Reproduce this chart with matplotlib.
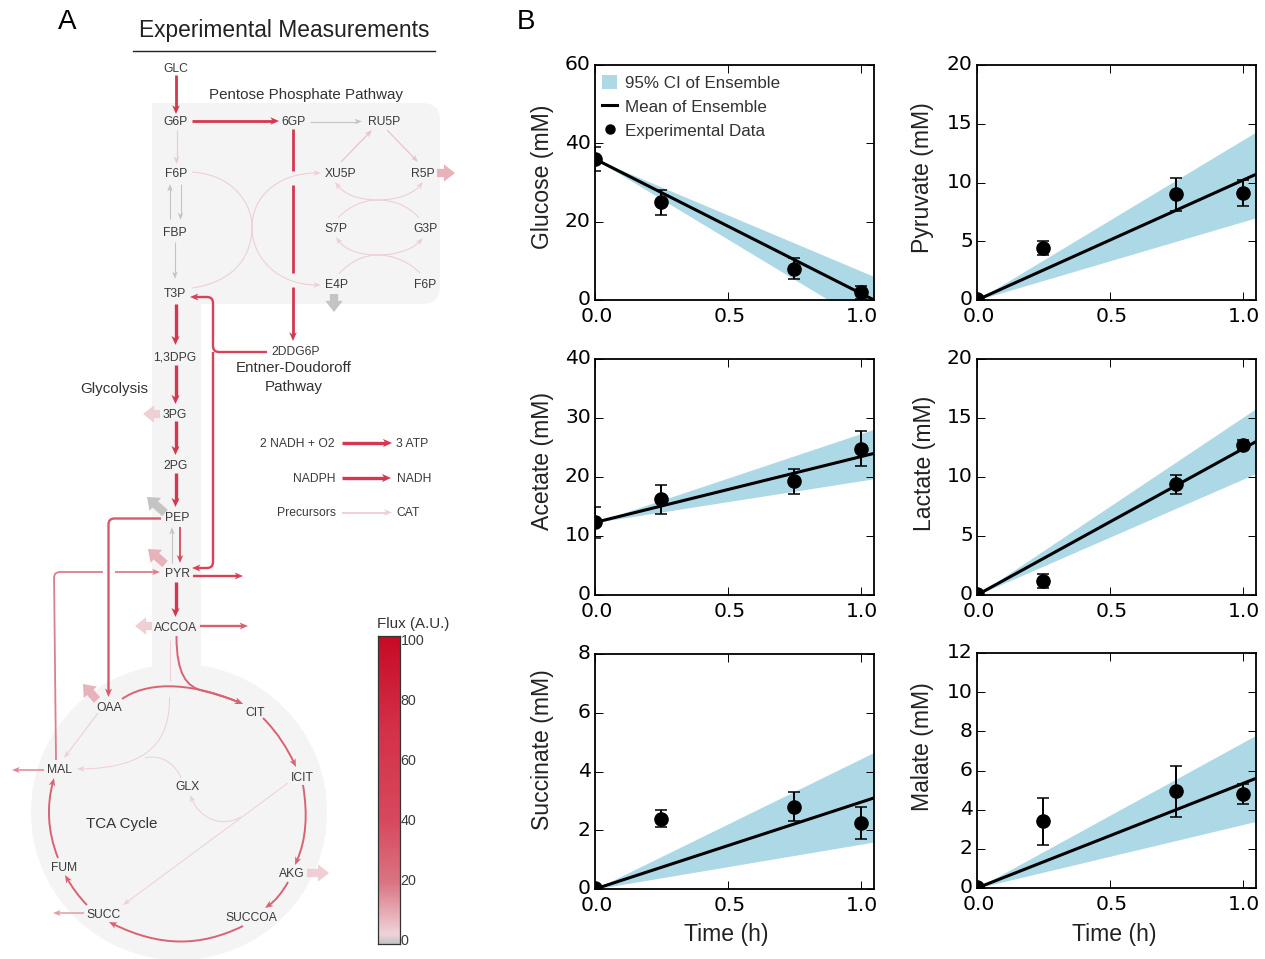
import numpy as np
import matplotlib
matplotlib.use("Agg")
import matplotlib.pyplot as plt
from matplotlib.colors import LinearSegmentedColormap
from matplotlib.lines import Line2D
from matplotlib.patches import Circle, FancyArrowPatch, FancyBboxPatch, Patch, PathPatch, Polygon, Rectangle
from matplotlib.path import Path
from matplotlib.transforms import ScaledTranslation

W, H = 1265, 959
SANS = "Liberation Sans"

# ---- panel B data ----
panel_names = ["Glucose (mM)", "Pyruvate (mM)", "Acetate (mM)",
               "Lactate (mM)", "Succinate (mM)", "Malate (mM)"]
panel_ymax = [60, 20, 40, 20, 8, 12]
panel_ystep = [20, 5, 10, 5, 2, 2]
time_data = [0.0, 0.25, 0.75, 1.0]
time_model = [0.0, 1.05]

glucose_obs = [36, 25, 8, 2]
glucose_err = [3, 3.2, 2.6, 1.7]
pyruvate_obs = [0.1, 4.4, 9.0, 9.1]
pyruvate_err = [0.1, 0.6, 1.4, 1.1]
acetate_obs = [12.3, 16.2, 19.3, 24.8]
acetate_err = [2.6, 2.4, 2.1, 3.0]
lactate_obs = [0.1, 1.2, 9.4, 12.7]
lactate_err = [0.1, 0.6, 0.8, 0.4]
succinate_obs = [0.02, 2.4, 2.8, 2.25]
succinate_err = [0.02, 0.3, 0.5, 0.55]
malate_obs = [0.05, 3.4, 4.95, 4.8]
malate_err = [0.05, 1.2, 1.3, 0.5]

glucose_mean = [36, 0]
glucose_low = [36, -7]
glucose_high = [36, 6]
pyruvate_mean = [0, 10.7]
pyruvate_low = [0, 7.0]
pyruvate_high = [0, 14.3]
acetate_mean = [12.3, 24.0]
acetate_low = [12.3, 19.7]
acetate_high = [12.3, 28.1]
lactate_mean = [0, 13.0]
lactate_low = [0, 10.3]
lactate_high = [0, 15.8]
succinate_mean = [0, 3.1]
succinate_low = [0, 1.6]
succinate_high = [0, 4.65]
malate_mean = [0, 5.6]
malate_low = [0, 3.4]
malate_high = [0, 7.8]

obs_all = [glucose_obs, pyruvate_obs, acetate_obs, lactate_obs, succinate_obs, malate_obs]
err_all = [glucose_err, pyruvate_err, acetate_err, lactate_err, succinate_err, malate_err]
mean_all = [glucose_mean, pyruvate_mean, acetate_mean, lactate_mean, succinate_mean, malate_mean]
low_all = [glucose_low, pyruvate_low, acetate_low, lactate_low, succinate_low, malate_low]
high_all = [glucose_high, pyruvate_high, acetate_high, lactate_high, succinate_high, malate_high]

# left, top, right, bottom in pixels
panel_boxes = [(595, 65, 874, 300), (977, 65, 1256, 300),
               (595, 359, 874, 595), (977, 359, 1256, 595),
               (595, 654, 874, 889), (977, 653, 1256, 888)]
# y label position in pixels
ylabel_pos = [(543, 177), (923, 178), (543, 461), (925, 463), (543, 750), (923, 747)]
xlabel_pos = {4: (726, 934), 5: (1114, 934)}

# ---- panel A layout ----
node_labels = [("GLC", 176, 69), ("G6P", 176, 122), ("6GP", 294, 122), ("RU5P", 384, 122),
               ("F6P", 176, 174), ("XU5P", 341, 174), ("R5P", 423, 174), ("FBP", 175, 233),
               ("S7P", 336, 229), ("G3P", 425, 229), ("T3P", 175, 294), ("E4P", 336, 285),
               ("F6P", 425, 285), ("2DDG6P", 296, 352), ("1,3DPG", 175, 357), ("3PG", 175, 415),
               ("2PG", 176, 466), ("PEP", 177, 518), ("PYR", 177, 574), ("ACCOA", 176, 628),
               ("OAA", 109, 708), ("CIT", 255, 713), ("MAL", 59, 770), ("GLX", 187, 787),
               ("ICIT", 302, 778), ("FUM", 64, 868), ("AKG", 292, 874), ("SUCC", 104, 915),
               ("SUCCOA", 251, 918), ("2 NADH + O2", 297, 444), ("3 ATP", 412, 444),
               ("NADPH", 314, 479), ("NADH", 414, 479), ("Precursors", 307, 513), ("CAT", 408, 513)]
section_labels = [("Pentose Phosphate Pathway", 306, 95), ("Glycolysis", 114, 389),
                  ("Entner-Doudoroff", 294, 368), ("Pathway", 294, 387), ("TCA Cycle", 122, 824)]

# flux, line width, points, arrow head?
straight_arrows = [
    (62, 2.0, [(176, 75), (176, 114)], True),
    (62, 2.0, [(192, 121), (279, 121)], True),
    (0, 0.8, [(310, 121.5), (362, 121.5)], True),
    (5, 0.9, [(176.5, 130), (176.5, 164)], True),
    (0, 0.8, [(170, 219), (170, 184)], True),
    (0, 0.8, [(180.5, 184), (180.5, 220)], True),
    (0, 0.8, [(175, 242), (175, 279)], True),
    (62, 2.0, [(293, 129), (293, 171)], False),
    (62, 2.0, [(293, 185), (293, 273)], False),
    (62, 2.0, [(293, 287), (293, 341)], True),
    (6, 0.9, [(341, 162), (372, 130)], True),
    (6, 0.9, [(387, 130), (418, 162)], True),
    (62, 2.4, [(175.5, 304), (175.5, 345)], True),
    (62, 2.4, [(175.5, 365), (175.5, 404)], True),
    (62, 2.4, [(175.5, 421), (175.5, 455)], True),
    (62, 2.4, [(175.5, 473), (175.5, 507)], True),
    (40, 1.3, [(180, 527), (180, 563)], True),
    (0, 0.8, [(172, 563), (172, 527)], True),
    (62, 2.4, [(175.5, 582), (175.5, 617)], True),
    (50, 1.7, [(193, 576), (243, 576)], True),
    (30, 1.7, [(200, 626), (248, 626)], True),
    (62, 2.4, [(342, 443), (392, 443)], True),
    (62, 2.4, [(342, 478), (391, 478)], True),
    (4, 1.3, [(342, 512.5), (392, 512.5)], True),
    (4, 0.8, [(98, 713), (64, 758)], True),
    (4, 0.7, [(169.5, 640), (169.5, 681)], False),
    (4, 0.7, [(288, 783), (123, 905)], True),
    (17, 1.1, [(44, 770), (12, 770)], True),
    (13, 1.1, [(84, 913), (53, 913)], True),
    (18, 1.3, [(115, 572), (160, 572)], True),
]
rounded_arrows = [
    (48, 1.7, [(267, 352), (213, 352), (213, 297), (190, 297)], True),
    (48, 1.7, [(213, 352), (213, 568), (192, 568)], True),
    (33, 1.7, [(161, 518.5), (108.5, 518.5), (108.5, 697)], True),
    (18, 1.3, [(56, 760), (54, 572), (103, 572)], False),
]
# start point then cubic segments (control, control, end)
curve_arrows = [
    (4, 0.8, [(192, 172), (235, 175), (252, 205), (252, 227), (252, 260), (280, 285), (321, 285)], True),
    (4, 0.8, [(192, 288), (235, 282), (252, 255), (252, 227), (252, 195), (280, 173), (321, 173)], True),
    (4, 0.8, [(338, 218), (350, 205), (365, 200), (378, 200), (395, 200), (412, 195), (423, 182)], True),
    (4, 0.8, [(419, 218), (408, 205), (392, 200), (378, 200), (360, 200), (345, 195), (335, 182)], True),
    (4, 0.8, [(339, 274), (350, 261), (365, 255), (378, 255), (395, 255), (412, 250), (423, 238)], True),
    (4, 0.8, [(420, 273), (408, 261), (392, 255), (378, 255), (360, 255), (345, 250), (336, 237)], True),
    (28, 1.4, [(176.5, 636), (176.5, 675), (187, 687), (202.9, 690.8), (215.1, 693.7), (228.5, 698), (243, 704)], True),
    (28, 1.4, [(122, 699), (145, 683), (185, 680), (243, 704)], True),
    (28, 1.4, [(263, 718), (278, 733), (288, 750), (296, 767)], True),
    (28, 1.4, [(303, 785), (308, 815), (306, 840), (295, 865)], True),
    (28, 1.4, [(288, 882), (282, 893), (275, 901), (265, 908)], True),
    (28, 1.4, [(243, 926), (200, 947), (160, 947), (109, 922)], True),
    (28, 1.4, [(87, 905), (79, 897), (72, 887), (65, 875)], True),
    (28, 1.4, [(58, 858), (47, 830), (47, 805), (54, 778)], True),
    (4, 0.7, [(169.5, 697), (170, 740), (150, 768), (77, 769)], True),
    (4, 0.7, [(145, 758), (160, 754), (175, 763), (181, 778)], False),
    (4, 0.7, [(241, 817), (220, 828), (200, 818), (190, 795)], True),
]
# flux, from, to
block_arrows = [
    (9, (437, 173), (455, 173)), (0, (334, 294), (334, 312)), (4, (160, 414), (143, 414)),
    (0, (165, 513), (147, 497)), (9, (165, 564), (148, 549)), (4, (152, 626), (135, 626)),
    (9, (97, 700), (83, 684)), (4, (307, 873), (329, 873)),
]

colorbar_ticks = [0, 20, 40, 60, 80, 100]
flux_stops = [(0.0, "#c4c4c4"), (0.03, "#efd4d9"), (0.2, "#da7482"), (0.4, "#d8495d"),
              (0.7, "#d43049"), (1.0, "#c80a26")]
flux_cmap = LinearSegmentedColormap.from_list("flux", flux_stops)


def flux_color(flux):
    return flux_cmap(flux / 100.0)


def draw_path(ax, verts, codes, flux, lw, head):
    color = flux_color(flux)
    verts = [tuple(v) for v in verts]
    if head:
        # barbed head: the line stops at the notch of the head
        tip = np.array(verts[-1], float)
        back = np.array(verts[-2], float)
        d = (tip - back) / np.linalg.norm(tip - back)
        n = np.array([-d[1], d[0]])
        length = 7.5 + (lw - 0.8) * 1.0
        half = 2.8 + (lw - 0.8) * 0.8
        notch = tip - d * length * 0.72
        ax.add_patch(Polygon([tip, tip - d * length + n * half, notch, tip - d * length - n * half],
                             closed=True, facecolor=color, lw=0, zorder=3))
        verts[-1] = tuple(notch + d)
    ax.add_patch(PathPatch(Path(verts, codes), facecolor="none", edgecolor=color, lw=lw,
                           capstyle="butt", zorder=3))


def rounded_path(points, radius=6):
    verts = [points[0]]
    codes = [Path.MOVETO]
    for i in range(1, len(points) - 1):
        p = np.array(points[i], float)
        a = np.array(points[i - 1], float)
        b = np.array(points[i + 1], float)
        pa = p + (a - p) / np.linalg.norm(a - p) * radius
        pb = p + (b - p) / np.linalg.norm(b - p) * radius
        verts += [tuple(pa), tuple(p), tuple(pb)]
        codes += [Path.LINETO, Path.CURVE3, Path.CURVE3]
    verts.append(points[-1])
    codes.append(Path.LINETO)
    return verts, codes


fig = plt.figure(figsize=(W / 100, H / 100), dpi=100)

# panel A drawn in pixel coordinates
ax_a = fig.add_axes([0, 0, 1, 1], zorder=0)
ax_a.set_xlim(0, W)
ax_a.set_ylim(H, 0)
ax_a.axis("off")

BG = "#f4f4f4"
ax_a.add_patch(Circle((179, 812), 148, color=BG, lw=0, zorder=1))
ax_a.add_patch(Rectangle((152, 110), 49, 590, color=BG, lw=0, zorder=1))
ax_a.add_patch(FancyBboxPatch((170, 121), 252, 165, boxstyle="round,pad=18,rounding_size=18",
                              color=BG, lw=0, zorder=1))
ax_a.add_patch(Rectangle((152, 103), 30, 60, color=BG, lw=0, zorder=1))

ax_a.text(67, 22, "A", fontsize=20, family=SANS, ha="center", va="center", color="black")
ax_a.text(526, 22, "B", fontsize=20, family=SANS, ha="center", va="center", color="black")
ax_a.text(284, 30, "Experimental Measurements", fontsize=16.35, family=SANS, ha="center",
          va="center", color="#222222")
ax_a.plot([133, 435], [50.5, 50.5], color="#222222", lw=1.0, zorder=2)

for label, x, y in node_labels:
    ax_a.text(x, y, label, fontsize=8.75, family=SANS, ha="center", va="center",
              color="#3a3a3a", zorder=4)
for label, x, y in section_labels:
    ax_a.text(x, y, label, fontsize=10.9, family=SANS, ha="center", va="center",
              color="#333333", zorder=4)

for flux, lw, pts, head in straight_arrows:
    draw_path(ax_a, pts, [Path.MOVETO, Path.LINETO], flux, lw, head)
for flux, lw, pts, head in rounded_arrows:
    verts, codes = rounded_path(pts)
    draw_path(ax_a, verts, codes, flux, lw, head)
for flux, lw, pts, head in curve_arrows:
    codes = [Path.MOVETO] + [Path.CURVE4] * (len(pts) - 1)
    draw_path(ax_a, pts, codes, flux, lw, head)
for flux, start, end in block_arrows:
    ax_a.add_patch(FancyArrowPatch(start, end, mutation_scale=1, color=flux_color(flux), lw=0,
                                   shrinkA=0, shrinkB=0, zorder=3,
                                   arrowstyle="simple,head_length=8,head_width=12.5,tail_width=6"))

# colour bar
cax = fig.add_axes([377.5 / W, 1 - 944 / H, 22 / W, 308 / H], zorder=2)
gradient = np.linspace(0, 1, 256).reshape(-1, 1)
cax.imshow(gradient, cmap=flux_cmap, origin="lower", aspect="auto", extent=[0, 1, 0, 102.5])
cax.set_xticks([])
cax.set_yticks([])
for spine in cax.spines.values():
    spine.set_linewidth(0.9)
    spine.set_color("#333333")
for tick in colorbar_ticks:
    ax_a.text(400.5, 941 - tick * 3, str(tick), fontsize=10.3, family=SANS, ha="left",
              va="center", color="#3a3a3a", zorder=4)
ax_a.text(413, 624, "Flux (A.U.)", fontsize=10.9, family=SANS, ha="center", va="center",
          color="#333333")

# panel B
for i, name in enumerate(panel_names):
    left, top, right, bottom = panel_boxes[i]
    ax = fig.add_axes([left / W, 1 - bottom / H, (right - left) / W, (bottom - top) / H], zorder=3)
    ax.patch.set_alpha(0)
    ax.fill_between(time_model, low_all[i], high_all[i], color="#add8e6", lw=0, zorder=1)
    ax.plot(time_model, mean_all[i], color="black", lw=2.2, zorder=3)
    ax.errorbar(time_data, obs_all[i], yerr=err_all[i], fmt="o", color="black", ms=9.5,
                elinewidth=1.4, capsize=4, capthick=1.1, zorder=4)
    ax.set_xlim(0, 1.05)
    ax.set_ylim(0, panel_ymax[i])
    ax.set_xticks([0.0, 0.5, 1.0])
    ax.set_yticks(np.arange(0, panel_ymax[i] + 1, panel_ystep[i]))
    ax.tick_params(direction="in", top=True, right=True, length=5.5, width=0.7,
                   labelsize=14.6)
    ax.tick_params(axis="x", pad=5)
    ax.tick_params(axis="y", pad=3)
    for lab in ax.get_yticklabels():
        lab.set_transform(lab.get_transform() + ScaledTranslation(0, 1.5 / 72, fig.dpi_scale_trans))
    for lab in ax.get_xticklabels():
        lab.set_transform(lab.get_transform() + ScaledTranslation(1.2 / 72, 0, fig.dpi_scale_trans))
    for spine in ax.spines.values():
        spine.set_linewidth(1.3)
    ax_a.text(ylabel_pos[i][0], ylabel_pos[i][1], name, rotation=90, fontsize=16.6, family=SANS,
              ha="center", va="center", color="#222222")
    if i in xlabel_pos:
        ax_a.text(xlabel_pos[i][0], xlabel_pos[i][1], "Time (h)", fontsize=16.6, family=SANS,
                  ha="center", va="center", color="#222222")
    if i == 0:
        handles = [Patch(color="#add8e6", lw=0),
                   Line2D([], [], color="black", lw=2.2),
                   Line2D([], [], marker="o", ls="", color="black", ms=6.5)]
        ax.legend(handles, ["95% CI of Ensemble", "Mean of Ensemble", "Experimental Data"],
                  loc="upper left", bbox_to_anchor=(0, 0.987), frameon=False,
                  handlelength=0.88, handleheight=0.88, handletextpad=0.47, labelspacing=0.47,
                  borderaxespad=0, borderpad=0.42,
                  prop={"family": SANS, "size": 12.25}, labelcolor="#333333")

fig.savefig("out.png", dpi=100)
